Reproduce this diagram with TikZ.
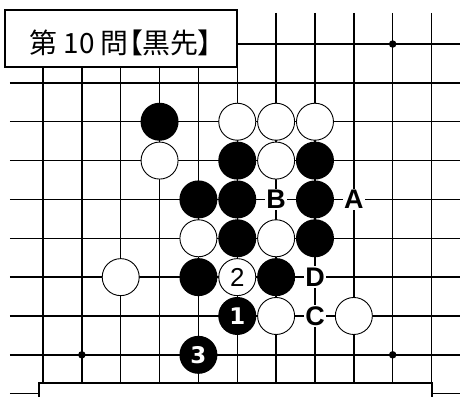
\documentclass[tikz,border=0pt]{standalone}
\usepackage{fontspec}
\usepackage{tikz}
\tikzset{>=latex}
\usetikzlibrary{calc}
\newfontfamily\titlefont[RawFeature=+palt]{Noto Sans CJK JP}
\newfontfamily\markfont{Liberation Sans}
\newfontfamily\movefont{DejaVu Sans}
\definecolor{boardline}{HTML}{000000}

\tikzset{
    black stone/.style={circle, fill=black, minimum size=38bp, inner sep=0pt, text=white, font=\movefont\bfseries\fontsize{23}{23}\selectfont},
    white stone/.style={circle, draw=black, line width=0.9bp, fill=white, minimum size=37bp, inner sep=0pt, font=\markfont\fontsize{26}{26}\selectfont},
    point label/.style={fill=white, inner sep=1.5bp, font=\markfont\bfseries\fontsize{27}{27}\selectfont},
    hoshi/.style={circle, fill=boardline, minimum size=7.5bp, inner sep=0pt},
}

\begin{document}
\begin{tikzpicture}[x=38.85bp, y=-38.85bp]
                \useasboundingbox (-1.107, -1.133) rectangle (10.733, 9.060);
                % board lines
                \foreach \r in {0,...,9}
                    \draw[boardline, line width=1.5bp] (-0.85, \r) -- (10.75, \r);
                \foreach \c in {0,...,10}
                    \draw[boardline, line width=1.5bp] (\c, -0.80) -- (\c, 9);
                \node[hoshi] (s1) at (9, 0) {};
                \node[hoshi] (s2) at (1, 8) {};
                \node[hoshi] (s3) at (9, 8) {};
                % lower panel
                \draw[boardline, line width=1.8bp, fill=white] (-0.10, 8.73) rectangle (10.01, 9.6);
                % title
                \node[draw=boardline, line width=1.8bp, fill=white, minimum width=232bp, minimum height=57bp, text height=34bp, text depth=4bp, inner sep=0pt, font=\titlefont\fontsize{28}{28}\selectfont] (title) at (2.006, -0.142) {第 10 問【黒先】};
                % black stones
                \node[black stone] (b1) at (3, 2) {};
                \node[black stone] (b2) at (5, 3) {};
                \node[black stone] (b3) at (7, 3) {};
                \node[black stone] (b4) at (4, 4) {};
                \node[black stone] (b5) at (5, 4) {};
                \node[black stone] (b6) at (7, 4) {};
                \node[black stone] (b7) at (5, 5) {};
                \node[black stone] (b8) at (7, 5) {};
                \node[black stone] (b9) at (4, 6) {};
                \node[black stone] (b10) at (6, 6) {};
                % white stones
                \node[white stone] (w1) at (5, 2) {};
                \node[white stone] (w2) at (6, 2) {};
                \node[white stone] (w3) at (7, 2) {};
                \node[white stone] (w4) at (3, 3) {};
                \node[white stone] (w5) at (6, 3) {};
                \node[white stone] (w6) at (4, 5) {};
                \node[white stone] (w7) at (6, 5) {};
                \node[white stone] (w8) at (2, 6) {};
                \node[white stone] (w9) at (6, 7) {};
                \node[white stone] (w10) at (8, 7) {};
                % moves
                \node[black stone] (m1) at (5, 7) {1};
                \node[white stone] (m2) at (5, 6) {2};
                \node[black stone] (m3) at (4, 8) {3};
                % points
                \node[point label] (A) at (8, 4) {A};
                \node[point label] (B) at (6, 4) {B};
                \node[point label] (C) at (7, 7) {C};
                \node[point label] (D) at (7, 6) {D};
            \end{tikzpicture}
\end{document}
